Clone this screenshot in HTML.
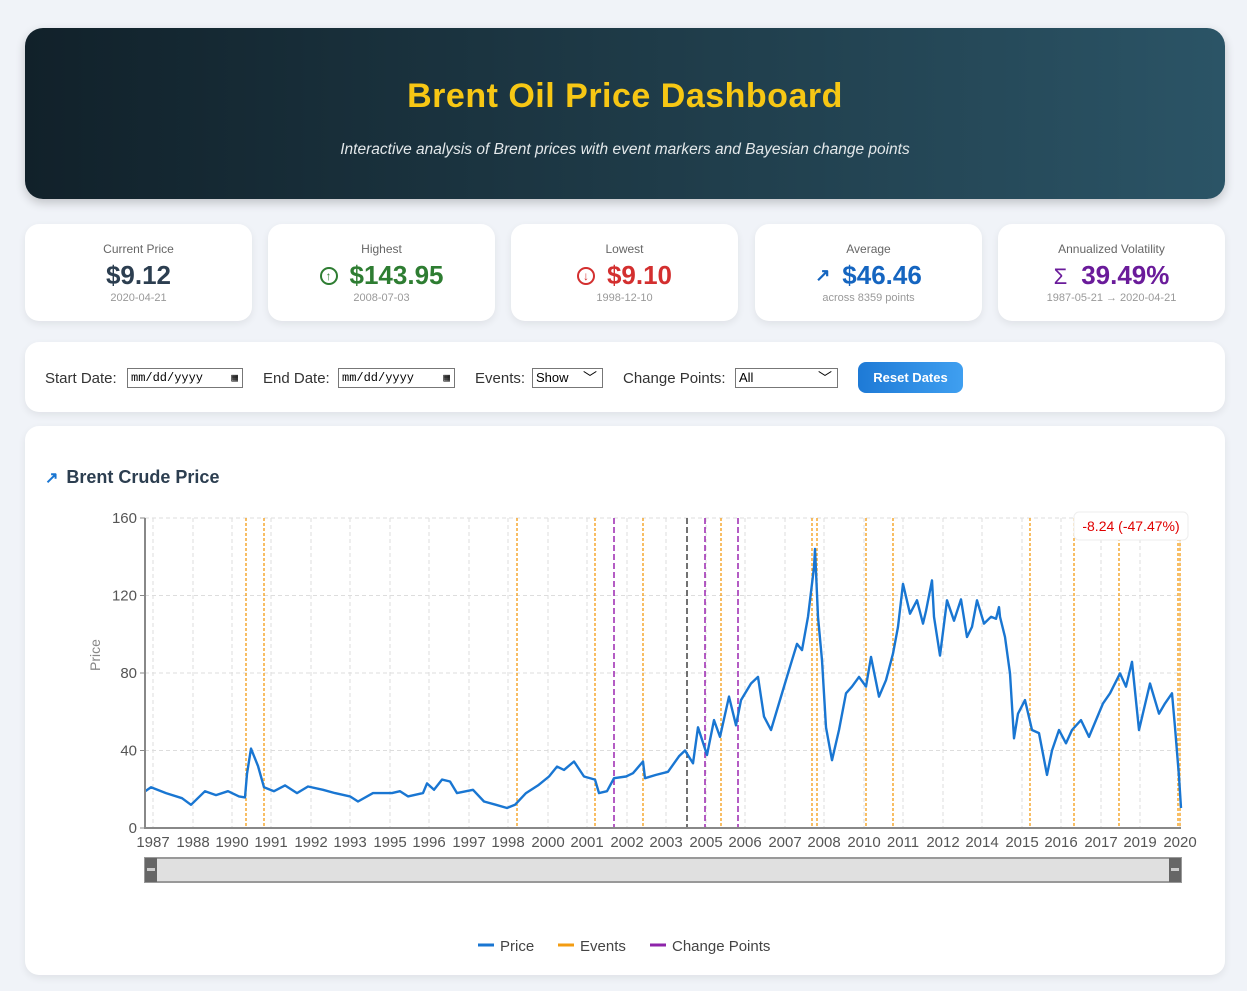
<!DOCTYPE html>
<html><head><meta charset="utf-8"><style>
*{box-sizing:border-box;margin:0;padding:0}
body{width:1247px;height:991px;background:#f0f3f8;font-family:"Liberation Sans",sans-serif;position:relative;overflow:hidden}
.abs{position:absolute}
.header{left:25px;top:28px;width:1200px;height:171px;border-radius:18px;background:linear-gradient(90deg,#11212a 0%,#1e3a47 50%,#2b5466 100%);box-shadow:0 4px 10px rgba(0,0,0,.2)}
.title{position:absolute;left:0;right:0;top:49px;text-align:center;color:#f7c714;font-weight:bold;font-size:34px;letter-spacing:.5px}
.sub{position:absolute;left:0;right:0;top:113px;text-align:center;color:#e3e8ea;font-style:italic;font-size:15.5px}
.card{background:#fff;border-radius:14px;box-shadow:0 3px 8px rgba(0,0,0,.07)}
.stat{top:224px;width:227px;height:97px;text-align:center}
.stat .l{position:absolute;top:18px;left:0;right:0;font-size:12px;color:#666}
.stat .v{position:absolute;top:36px;left:0;right:0;font-size:26px;font-weight:bold}
.stat .s{position:absolute;top:68px;left:0;right:0;font-size:11px;color:#999}
.ctl{font-size:15px;color:#333;top:370px}
.inp{border:1px solid #777;height:20px;background:#fff;font-family:"Liberation Mono",monospace;font-size:12px;padding:2px 3px;top:368px}
</style></head><body>
<div class="abs header">
 <div class="title">Brent Oil Price Dashboard</div>
 <div class="sub">Interactive analysis of Brent prices with event markers and Bayesian change points</div>
</div>

<div class="abs card stat" style="left:25px">
 <div class="l">Current Price</div><div class="v" style="color:#2c3e50">$9.12</div><div class="s">2020-04-21</div></div>
<div class="abs card stat" style="left:268px">
 <div class="l">Highest</div><div class="v" style="color:#2e7d32"><span style="display:inline-block;width:18px;height:18px;border:2px solid #2e7d32;border-radius:50%;font-size:12px;line-height:14px;vertical-align:4px;margin-right:12px">↑</span>$143.95</div><div class="s">2008-07-03</div></div>
<div class="abs card stat" style="left:511px">
 <div class="l">Lowest</div><div class="v" style="color:#d32f2f"><span style="display:inline-block;width:18px;height:18px;border:2px solid #d32f2f;border-radius:50%;font-size:12px;line-height:14px;vertical-align:4px;margin-right:12px">↓</span>$9.10</div><div class="s">1998-12-10</div></div>
<div class="abs card stat" style="left:755px">
 <div class="l">Average</div><div class="v" style="color:#1565c0"><span style="font-size:18px;margin-right:12px;vertical-align:3px">↗</span>$46.46</div><div class="s">across 8359 points</div></div>
<div class="abs card stat" style="left:998px">
 <div class="l">Annualized Volatility</div><div class="v" style="color:#6a1b9a"><span style="font-size:22px;font-weight:normal;margin-right:14px">Σ</span>39.49%</div><div class="s">1987-05-21 → 2020-04-21</div></div>

<div class="abs card" style="left:25px;top:342px;width:1200px;height:70px"></div>
<div class="abs ctl" style="left:45px">Start Date:</div>
<div class="abs inp" style="left:127px;width:116px">mm/dd/yyyy <span style="position:absolute;right:4px;font-size:11px">▦</span></div>
<div class="abs ctl" style="left:263px">End Date:</div>
<div class="abs inp" style="left:338px;width:117px">mm/dd/yyyy <span style="position:absolute;right:4px;font-size:11px">▦</span></div>
<div class="abs ctl" style="left:475px">Events:</div>
<div class="abs inp" style="left:532px;width:71px;font-family:'Liberation Sans',sans-serif;font-size:13px;padding-top:1px">Show<span style="position:absolute;right:5px;top:-1px;font-size:14px">﹀</span></div>
<div class="abs ctl" style="left:623px">Change Points:</div>
<div class="abs inp" style="left:735px;width:103px;font-family:'Liberation Sans',sans-serif;font-size:13px;padding-top:1px">All<span style="position:absolute;right:5px;top:-1px;font-size:14px">﹀</span></div>
<div class="abs" style="left:858px;top:362px;width:105px;height:31px;border-radius:8px;background:linear-gradient(90deg,#1e7ad6,#3f9ff0);color:#fff;font-weight:bold;font-size:13px;text-align:center;line-height:31px">Reset Dates</div>

<div class="abs card" style="left:25px;top:426px;width:1200px;height:549px"></div>
<div class="abs" style="left:45px;top:467px;font-size:18px;font-weight:bold;color:#2c3e50"><span style="color:#1976d2;font-size:16px;margin-right:8px">↗</span>Brent Crude Price</div>

<svg class="abs" style="left:0;top:0" width="1247" height="991">
 <g id="grid"></g><g id="marks"></g><g id="axes"></g>
 <text x="100" y="655" transform="rotate(-90 100 655)" text-anchor="middle" font-size="14" fill="#888">Price</text>
 <rect x="145" y="858" width="1036" height="24" fill="#e0e0e0" stroke="#999" stroke-width="2"/>
 <rect x="145" y="858" width="12" height="24" fill="#666"/>
 <rect x="147" y="868" width="8" height="3" fill="#ccc"/>
 <rect x="1169" y="858" width="12" height="24" fill="#666"/>
 <rect x="1171" y="868" width="8" height="3" fill="#ccc"/>
 <g>
  <rect x="1074" y="512" width="114" height="28" rx="5" fill="#fff" stroke="#eee"/>
  <text x="1131" y="531" text-anchor="middle" font-size="14" fill="#e00000">-8.24 (-47.47%)</text>
 </g>
 <g>
  <line x1="478" y1="945" x2="494" y2="945" stroke="#1976d2" stroke-width="3"/><text x="500" y="951" font-size="15" fill="#444">Price</text>
  <line x1="558" y1="945" x2="574" y2="945" stroke="#f39c12" stroke-width="3"/><text x="580" y="951" font-size="15" fill="#444">Events</text>
  <line x1="650" y1="945" x2="666" y2="945" stroke="#8e24aa" stroke-width="3"/><text x="672" y="951" font-size="15" fill="#444">Change Points</text>
 </g>
</svg>
<script>
// x = downsampled sample index (0..1036), y = USD price
const sampleIdx=[0,6,21,37,46,60,71,83,94,100,102,106,113,119,129,140,152,163,178,190,205,213,228,247,255,263,278,282,289,297,305,312,328,339,351,362,370,381,393,404,412,419,429,439,450,454,462,469,481,488,498,500,511,523,534,540,548,553,562,569,575,584,591,596,606,613,619,626,636,643,647,652,657,663,669,670,673,677,681,687,694,701,707,714,721,726,734,741,748,753,758,765,772,778,781,787,789,795,802,809,816,822,827,832,839,846,851,854,855,860,865,869,873,880,887,894,902,907,914,921,927,936,944,958,965,975,981,987,994,1005,1014,1020,1027,1030,1034,1036];
const prices=[18.9,21,18,15.4,12,19,17,19,16.3,15.8,28,41,32,21,19,22,18,21.4,19.7,18,16.3,13.7,18,18,19,16.3,18,23,19.7,25,24,18,19.7,13.7,12,10.3,12,18,22,26.6,31.7,30,34.3,26.6,25,18,19,25.7,26.6,28.3,34.3,25.7,27.4,29,37,40,33.4,52,37.7,55.7,47,67.8,53,66,74.6,78,57.5,50.6,67.8,79.8,86.6,95,91.8,109,134.6,144,109,86.6,52,35,50.6,69.5,73,78,73,88.3,67.8,76.3,90,103.8,126,110.6,117.5,105.5,112,127.8,109,89,117.5,107,118,98.6,103.8,117.5,105.5,109,108,114,109,98.6,79.8,46.3,59,66,50.6,49,27.4,40,50.6,43.7,50.6,55.7,47,64.3,69.5,79.8,73,85.8,50.6,74.6,59,64.3,69.5,52,26.6,10.3];
const tickIdx=[8,48,87,126,166,205,245,284,324,363,403,442,482,521,561,600,640,679,719,758,798,837,877,916,956,995,1035];
const tickLabels=["1987","1988","1990","1991","1992","1993","1995","1996","1997","1998","2000","2001","2002","2003","2005","2006","2007","2008","2010","2011","2012","2014","2015","2016","2017","2019","2020"];
const yTicks=[0,40,80,120,160];
const eventIdx=[101,119,372,450,498,576,667,672,721,748,885,929,974,1033,1035];
const changeIdx=[469,542,560,593];
const changeColors=["#9c27b0","#444","#9c27b0","#9c27b0"];
const X0=145,W=1036,Y0=828,H=310,XMAX=1036,YMAX=160;
const xs=i=>X0+i/XMAX*W, ys=v=>Y0-v/YMAX*H;
const NS="http://www.w3.org/2000/svg";
function mk(t,a,p){const e=document.createElementNS(NS,t);for(const k in a)e.setAttribute(k,a[k]);p.appendChild(e);return e;}
const grid=document.getElementById('grid'),marks=document.getElementById('marks'),axes=document.getElementById('axes');
yTicks.forEach(v=>{
 const l=mk('line',{x1:X0,x2:X0+W,y1:ys(v),y2:ys(v),stroke:'#ddd','stroke-dasharray':'4 3'},grid);
 
 
 const t=mk('text',{x:X0-8,y:ys(v)+5,'text-anchor':'end','font-size':15,fill:'#555'},axes);t.textContent=v;
 
 
 mk('line',{x1:X0-5,x2:X0,y1:ys(v),y2:ys(v),stroke:'#888'},axes);
});
tickIdx.forEach((i,k)=>{
 const l=mk('line',{x1:xs(i),x2:xs(i),y1:Y0-H,y2:Y0,stroke:'#ddd','stroke-dasharray':'4 3'},grid);
 
 
 const t=mk('text',{x:xs(i),y:Y0+19,'text-anchor':'middle','font-size':15,fill:'#555'},axes);t.textContent=tickLabels[k];
 
 
});
eventIdx.forEach(i=>{
 const l=mk('line',{x1:xs(i),x2:xs(i),y1:Y0-H,y2:Y0,stroke:'#f39c12','stroke-width':1.3,'stroke-dasharray':'3 2'},marks);
 
 
});
changeIdx.forEach((i,k)=>{
 const l=mk('line',{x1:xs(i),x2:xs(i),y1:Y0-H,y2:Y0,stroke:changeColors[k],'stroke-width':1.5,'stroke-dasharray':'6 3'},marks);
 
 
});
const p=mk('path',{d:sampleIdx.map((i,k)=>(k?'L':'M')+xs(i).toFixed(1)+','+ys(prices[k]).toFixed(1)).join(''),fill:'none',stroke:'#1976d2','stroke-width':2.4,'stroke-linejoin':'round'},marks);


const ax=mk('path',{d:`M${X0},${Y0-H}V${Y0}H${X0+W}`,fill:'none',stroke:'#888','stroke-width':2},axes);


</script>
</body></html>
